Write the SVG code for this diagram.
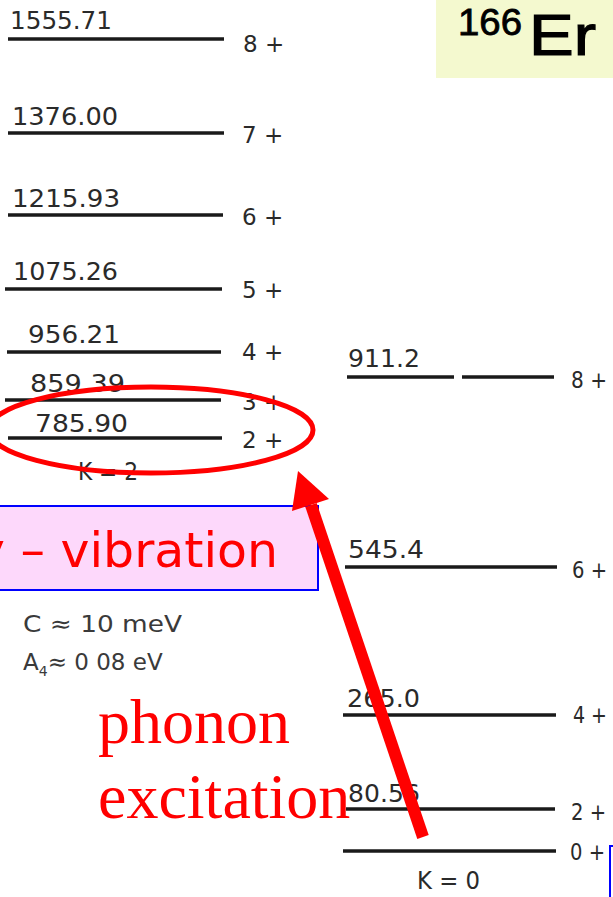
<svg xmlns="http://www.w3.org/2000/svg" width="613" height="897" viewBox="0 0 613 897">
<style>
.lv{stroke:#1a1a1a;stroke-width:3.4;fill:none}
.en{font-family:"DejaVu Sans",sans-serif;font-size:25px;fill:#2a2a2a}
.jp{font-family:"DejaVu Sans",sans-serif;font-size:23px;fill:#2a2a2a}
.par{font-family:"DejaVu Sans",sans-serif;font-size:23px;fill:#3a3a3a}
.red{font-family:"Liberation Serif",serif;font-size:64px;fill:#ff0000}
</style>
<rect width="613" height="897" fill="#ffffff"/>

<g id="title">
<rect x="436" y="0" width="177" height="78" fill="#f4f9cf"/>
<text x="458" y="35" font-family="Liberation Sans,sans-serif" font-size="37" fill="#000" stroke="#000" stroke-width="0.8" textLength="64" lengthAdjust="spacingAndGlyphs">166</text>
<text x="529" y="55" font-family="Liberation Sans,sans-serif" font-size="58" fill="#000" stroke="#000" stroke-width="1.2" textLength="67" lengthAdjust="spacingAndGlyphs">Er</text>
</g>

<g id="band-K2">
<g id="L1555"><line class="lv" x1="8" y1="39" x2="224" y2="39"/><text class="en" x="10" y="29" textLength="102" lengthAdjust="spacingAndGlyphs">1555.71</text><text class="jp" x="243" y="52">8 +</text></g>
<g id="L1376"><line class="lv" x1="8" y1="133" x2="224" y2="133"/><text class="en" x="12" y="125" textLength="106" lengthAdjust="spacingAndGlyphs">1376.00</text><text class="jp" x="242" y="143">7 +</text></g>
<g id="L1215"><line class="lv" x1="8" y1="215" x2="223" y2="215"/><text class="en" x="12" y="207" textLength="108" lengthAdjust="spacingAndGlyphs">1215.93</text><text class="jp" x="242" y="225">6 +</text></g>
<g id="L1075"><line class="lv" x1="5" y1="289" x2="222" y2="289"/><text class="en" x="13" y="280" textLength="105" lengthAdjust="spacingAndGlyphs">1075.26</text><text class="jp" x="242" y="298">5 +</text></g>
<g id="L956"><line class="lv" x1="7" y1="352" x2="221" y2="352"/><text class="en" x="28" y="343" textLength="92" lengthAdjust="spacingAndGlyphs">956.21</text><text class="jp" x="242" y="360">4 +</text></g>
<g id="L859"><line class="lv" x1="5" y1="400" x2="221" y2="400" stroke-width="2.6"/><text class="en" x="30" y="392" textLength="95" lengthAdjust="spacingAndGlyphs">859.39</text><text class="jp" x="242" y="410">3 +</text></g>
<g id="L785"><line class="lv" x1="8" y1="438" x2="222" y2="438"/><text class="en" x="35" y="432" textLength="93" lengthAdjust="spacingAndGlyphs">785.90</text><text class="jp" x="242" y="448">2 +</text></g>
<text class="en" x="78" y="480" font-size="23" textLength="60" lengthAdjust="spacingAndGlyphs">K = 2</text>
</g>

<g id="band-K0">
<g id="R911"><line class="lv" x1="347" y1="377" x2="454" y2="377"/><line class="lv" x1="462" y1="377" x2="554" y2="377" stroke-width="2.8"/><text class="en" x="348" y="367" textLength="72" lengthAdjust="spacingAndGlyphs">911.2</text><text class="jp" x="571" y="388" textLength="36" lengthAdjust="spacingAndGlyphs">8 +</text></g>
<g id="R545"><line class="lv" x1="345" y1="567" x2="557" y2="567"/><text class="en" x="348" y="558" textLength="76" lengthAdjust="spacingAndGlyphs">545.4</text><text class="jp" x="572" y="578" textLength="35" lengthAdjust="spacingAndGlyphs">6 +</text></g>
<g id="R265"><line class="lv" x1="343" y1="715" x2="556" y2="715"/><text class="en" x="347" y="707" textLength="73" lengthAdjust="spacingAndGlyphs">265.0</text><text class="jp" x="573" y="723" textLength="34" lengthAdjust="spacingAndGlyphs">4 +</text></g>
<g id="R80"><line class="lv" x1="346" y1="809" x2="555" y2="809"/><text class="en" x="348" y="802" font-size="19" textLength="72">80.56</text><text class="jp" x="571" y="820" textLength="35" lengthAdjust="spacingAndGlyphs">2 +</text></g>
<g id="R0"><line class="lv" x1="343" y1="851" x2="556" y2="851"/><text class="jp" x="570" y="860" textLength="35" lengthAdjust="spacingAndGlyphs">0 +</text></g>
<text class="en" x="417" y="889" font-size="22" textLength="63" lengthAdjust="spacingAndGlyphs">K = 0</text>
</g>

<g id="params">
<text class="par" x="23" y="632" textLength="159" lengthAdjust="spacingAndGlyphs">C ≈ 10 meV</text>
<text class="par" x="23" y="670">A<tspan font-size="14" dy="6">4</tspan><tspan dy="-6">≈ 0 08 eV</tspan></text>
</g>

<g id="vib-box">
<rect x="-10" y="506" width="328" height="84" fill="#fdd8fb" stroke="#0000ff" stroke-width="2"/>
<text x="-24" y="567" font-family="DejaVu Sans,sans-serif" font-size="48" fill="#ff0000" textLength="302" lengthAdjust="spacingAndGlyphs">γ – vibration</text>
</g>

<g id="phonon-label">
<text class="red" x="98" y="743">phonon</text>
<text class="red" x="98" y="818">excitation</text>
</g>

<g id="highlight">
<ellipse cx="151" cy="430" rx="162" ry="43" fill="none" stroke="#ff0000" stroke-width="5"/>
</g>

<g id="connectors">
<line x1="423" y1="837" x2="311" y2="505" stroke="#ff0000" stroke-width="12"/>
<polygon points="298,471 292,511 329,499" fill="#ff0000"/>
</g>

<g id="blue-edge">
<path d="M613,846 L610,846 L610,897" fill="none" stroke="#0000ff" stroke-width="2"/>
</g>
</svg>
